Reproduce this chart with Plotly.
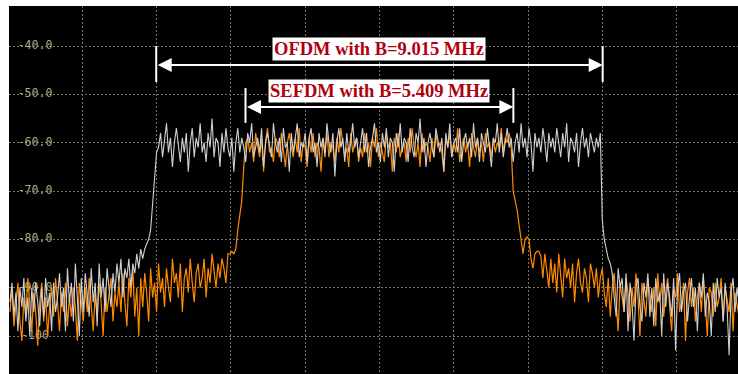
import numpy as np
import plotly.graph_objects as go

# ---------------- data ----------------
f_start = -7.46   # MHz offset of first trace point
f_step = 0.04     # MHz between trace points

# OFDM trace (white), dBm
white_db = [
    # left noise floor
    -93, -89, -96, -91, -99, -90, -94, -88, -97, -92, -100, -90, -95, -89, -93, -98, -90, -96, -88, -94, -91, -99, -89, -95, -92,
    -87, -94, -90, -99, -86, -93, -89, -97, -85, -92, -100, -88, -95, -87, -91, -96, -86, -93, -89, -98, -85, -92, -88, -95, -86, -90, -94, -87, -91, -85,
    -89, -84, -92, -86, -88, -84, -90, -85, -87, -83, -86, -82, -84, -82, -81,
    # rise
    -80, -78, -73, -67, -62,
    # in-band
    -61, -58, -63, -60, -56, -62, -59, -65, -60, -57, -61, -64, -59, -62, -58, -66, -60, -57, -63, -59,
    -61, -56, -62, -60, -64, -58, -61, -55, -63, -59, -60, -65, -58, -62, -57, -61, -63, -59, -66, -60,
    -57, -62, -59, -61, -64, -58, -60, -56, -63, -61, -59, -62, -57, -65, -60, -58, -61, -63, -56, -60,
    -62, -59, -64, -57, -61, -60, -66, -58, -62, -59, -56, -63, -60, -61, -58, -64, -59, -57, -62, -60,
    -65, -58, -61, -59, -63, -56, -60, -62, -58, -67, -60, -57, -61, -59, -64, -58, -62, -60, -56, -61,
    -59, -63, -60, -57, -62, -58, -65, -61, -59, -56, -62, -60, -64, -58, -61, -57, -63, -59, -60, -66,
    -58, -61, -56, -62, -59, -60, -64, -57, -61, -63, -58, -60, -55, -62, -59, -65, -60, -58, -61, -63,
    -57, -60, -62, -59, -66, -58, -61, -56, -63, -60, -59, -62, -57, -64, -60, -58, -61, -59, -63, -56,
    -61, -59, -64, -58, -60, -62, -57, -61, -65, -59, -60, -56, -62, -58, -63, -60, -57, -61, -59, -64,
    -60, -58, -62, -56, -61, -59, -63, -57, -60, -66, -58, -61, -59, -62, -57, -60, -64, -58, -61, -59,
    -62, -57, -60, -63, -58, -61, -56, -64, -59, -60, -62, -58, -65, -60, -57, -61, -59, -63, -58, -60,
    -62, -59, -61, -58,
    # fall
    -76, -80, -82, -84, -85,
    # right noise floor
    -87, -92, -96, -86, -90, -88, -95, -87, -99, -89, -93, -101, -90, -88, -94, -97, -89, -92, -87, -96,
    -90, -98, -88, -93, -91, -100, -87, -94, -89, -92, -96, -88, -103, -90, -87, -95, -91, -89, -97, -92,
    -88, -94, -90, -99, -89, -92, -87, -96, -91, -93, -100, -89, -95, -88, -92, -90, -97, -89, -94, -104,
    -91, -88, -95, -90, -93,
]

# SEFDM trace (orange), dBm
orange_db = [
    # left noise floor
    -95, -90, -98, -93, -89, -97, -101, -92, -96, -88, -94, -99, -91, -95, -102, -93, -89, -97, -92, -100,
    -94, -90, -96, -88, -93, -99, -91, -95, -89, -98, -92, -96, -90, -94, -101, -89, -93, -97, -90, -95,
    -88, -94, -99, -91, -96, -89, -93, -100, -90, -95, -92, -88, -97, -91, -94,
    -89, -95, -87, -93, -98, -88, -92, -86, -96, -90, -100, -88, -94, -87, -91, -97, -86, -92, -89, -95,
    -85, -91, -88, -94, -86, -90, -93, -84, -89, -87, -92, -85, -95, -88, -86, -91, -84, -89, -93, -87,
    -85, -90, -88, -84, -92, -86, -89, -83, -87, -90, -85, -88, -84, -86, -89, -83,
    # rise
    -83, -82.5, -83, -82, -78, -75, -72, -65, -60,
    # in-band
    -59, -62, -60, -64, -58, -61, -63, -59, -66, -60, -57, -62, -61, -64, -59, -60, -63, -58, -62, -65,
    -60, -58, -61, -63, -59, -62, -57, -64, -60, -61, -65, -59, -62, -58, -63, -60, -61, -66, -59, -62,
    -58, -63, -60, -61, -64, -59, -62, -57, -60, -63, -61, -65, -58, -62, -60, -59, -64, -61, -63, -58,
    -62, -60, -65, -59, -61, -57, -63, -60, -62, -64, -58, -61, -60, -66, -59, -62, -58, -63, -61, -60,
    -64, -59, -62, -57, -61, -63, -60, -65, -58, -62, -60, -61, -64, -59, -63, -58, -61, -60, -62, -66,
    -59, -61, -58, -63, -60, -62, -57, -64, -61, -59, -62, -60, -65, -58, -61, -63, -59, -62, -60, -64,
    -58, -61, -60, -63, -59, -62, -60, -61, -57, -62, -59, -60, -58, -61,
    # fall
    -70, -72, -74, -77, -80, -83, -80, -79.5, -80, -84, -86, -83, -82.5, -82.5, -83.5,
    # right noise floor
    -88, -83, -86, -90, -84, -89, -85, -91, -83, -87, -92, -84, -88, -86, -90, -85, -93, -87, -84, -89,
    -91, -86, -88, -93, -85, -87, -90, -86, -92, -88,
    -86, -91, -94, -88, -96, -90, -87, -93, -99, -89, -92, -95, -88, -91, -97, -90, -94, -87, -92, -100,
    -89, -93, -96, -88, -91, -95, -90, -98, -87, -93, -89, -96, -91, -88, -94, -99, -90, -92, -87, -95,
    -93, -89, -101, -91, -88, -94, -90, -97, -92, -89, -95, -88, -93, -100, -90, -91, -96, -89, -94, -92,
    -88, -97, -90, -93, -95, -89, -99, -91, -94, -96,
]

ytick_vals = [-40, -50, -60, -70, -80, -90, -100]
ytick_text = ["-40.0", "-50.0", "-60.0", "-70.0", "-80.0", "-90.0", "-100"]

ofdm_bw = 9.015    # MHz
sefdm_bw = 5.409   # MHz

# ---------------- figure ----------------
freq_w = f_start + f_step * np.arange(len(white_db))
freq_o = f_start + f_step * np.arange(len(orange_db))

X_RANGE = [-7.48, 7.24]
Y_RANGE = [-107.86, -31.72]
GRID = "#7d745d"
LABEL_X = -6.955

fig = go.Figure()

# y labels drawn inside the plot, beneath traces
fig.add_trace(go.Scatter(
    x=[LABEL_X] * len(ytick_vals), y=ytick_vals, mode="text", text=ytick_text,
    textfont=dict(family="DejaVu Sans Mono", size=11.5, color="#b3a988"),
    hoverinfo="skip", showlegend=False))

fig.add_trace(go.Scatter(
    x=freq_o, y=orange_db, mode="lines",
    line=dict(color="#ff8a00", width=1.2), showlegend=False))
fig.add_trace(go.Scatter(
    x=freq_w, y=white_db, mode="lines",
    line=dict(color="#d0d0d0", width=1.1), showlegend=False))

shapes = []
# black masks behind y labels (break the dashed grid)
for v in ytick_vals:
    shapes.append(dict(type="rect", xref="paper", yref="y",
                       x0=(14 - 9) / 729, x1=(56 - 9) / 729, y0=v - 1.0, y1=v + 1.0,
                       fillcolor="black", line=dict(width=0), layer="between"))

def bw_marker(bw, y_arrow, y_top, y_bot):
    for sx in (-1, 1):
        shapes.append(dict(type="line", xref="x", yref="y",
                           x0=sx * bw / 2, x1=sx * bw / 2, y0=y_top, y1=y_bot,
                           line=dict(color="white", width=2), layer="above"))
    fig.add_annotation(x=bw / 2, y=y_arrow, ax=-bw / 2, ay=y_arrow,
                       xref="x", yref="y", axref="x", ayref="y",
                       text="", showarrow=True, arrowside="end+start",
                       arrowhead=2, startarrowhead=2,
                       arrowsize=1.4, startarrowsize=1.4,
                       arrowwidth=2, arrowcolor="white")

bw_marker(ofdm_bw, -43.93, -40.0, -47.45)
bw_marker(sefdm_bw, -52.6, -48.7, -55.9)

txt_font = dict(family="Liberation Serif, Times New Roman, serif", size=18.5, color="#b0000f")
fig.add_annotation(x=0, y=-40.6, xref="x", yref="y",
                   text=f"<b>OFDM with B={ofdm_bw:.3f} MHz</b>",
                   showarrow=False, font=txt_font, bgcolor="white", borderpad=1)
fig.add_annotation(x=0, y=-49.4, xref="x", yref="y",
                   text=f"<b>SEFDM with B={sefdm_bw:.3f} MHz</b>",
                   showarrow=False, font=txt_font, bgcolor="white", borderpad=1)

fig.update_layout(
    width=738, height=374, autosize=False,
    margin=dict(l=9, r=0, t=6, b=0),
    paper_bgcolor="white", plot_bgcolor="black",
    shapes=shapes, showlegend=False,
    xaxis=dict(range=X_RANGE, dtick=1.5, tick0=0, showticklabels=False, ticks="",
               showgrid=True, gridcolor=GRID, griddash="2px,2px", gridwidth=1,
               zeroline=False, showline=False, fixedrange=True),
    yaxis=dict(range=Y_RANGE, dtick=10, tick0=0, showticklabels=False, ticks="",
               showgrid=True, gridcolor=GRID, griddash="2px,2px", gridwidth=1,
               zeroline=False, showline=False, fixedrange=True),
)

fig.write_html("out.html")
